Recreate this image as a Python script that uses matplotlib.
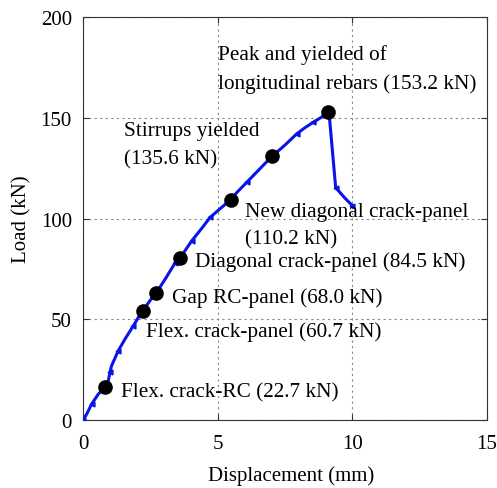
import matplotlib
matplotlib.use("Agg")
import matplotlib.pyplot as plt

# load-displacement curve
disp = [0.0, 0.14, 0.32, 0.57, 0.84, 0.94, 1.0, 1.06, 1.31, 1.56, 1.87, 2.05, 2.24,
        2.5, 2.74, 3.1, 3.42, 3.6, 4.04, 4.4, 4.72, 5.1, 5.43, 5.75, 6.08, 6.5, 7.0, 7.5,
        7.93, 8.25, 8.54, 8.85, 9.09, 9.15, 9.38, 9.7, 10.0]
load = [0.0, 3.0, 7.9, 12.9, 16.2, 19.5, 23.6, 26.9, 34.4, 40.2, 46.8, 50.8, 54.6,
        59.5, 63.5, 71.0, 78.0, 80.4, 89.0, 95.0, 100.6, 105.0, 108.8, 113.5, 118.0, 123.8, 130.7, 136.5,
        142.0, 145.2, 147.7, 150.3, 152.7, 150.0, 115.4, 110.5, 106.4]

# key events (dots)
ev_x = [0.82, 2.23, 2.71, 3.6, 5.5, 7.02, 9.1]
ev_y = [16.4, 54.1, 63.0, 80.4, 109.2, 131.0, 152.9]
ev_labels = ["Flex. crack-RC (22.7 kN)", "Flex. crack-panel (60.7 kN)", "Gap RC-panel (68.0 kN)",
             "Diagonal crack-panel (84.5 kN)", "New diagonal crack-panel\n(110.2 kN)",
             "Stirrups yielded\n(135.6 kN)", "Peak and yielded of\nlongitudinal rebars (153.2 kN)"]
lab_xy = [(1.41, 13.9), (2.34, 44.3), (3.29, 61.0), (4.16, 79.0), (6.02, 96.8), (1.52, 136.7), (5.01, 174.4)]

plt.rcParams["font.family"] = "Liberation Serif"
fig, ax = plt.subplots(figsize=(4.97, 4.89), dpi=100)
ax.plot(disp, load, color="#0a14e6", lw=2.2, marker="<", ms=3.5, markevery=2, zorder=3)
ax.plot(ev_x, ev_y, "o", color="black", ms=9.5, zorder=4)
for (tx, ty), s in zip(lab_xy, ev_labels):
    ax.text(tx, ty, s, fontsize=15.3, ha="left", va="center", linespacing=1.6)

ax.set_xlim(0, 15); ax.set_ylim(0, 200)
ax.set_xticks([0, 5, 10, 15]); ax.set_yticks([0, 50, 100, 150, 200])
ax.grid(True, ls=(0, (2, 3)), color="#888888", lw=0.8)
for sp in ax.spines.values():
    sp.set_linestyle((0, (2, 1))); sp.set_color("#333333"); sp.set_linewidth(0.8)
ax.tick_params(direction="in", length=4, width=0.8, color="#333333", top=True, right=True,
               labelsize=15, pad=8)
ax.tick_params(axis="x", pad=10)
ax.set_xlabel("Displacement (mm)", fontsize=15)
ax.set_ylabel("Load (kN)", fontsize=15)
ax.xaxis.set_label_coords(0.516, -0.113)
ax.yaxis.set_label_coords(-0.127, 0.5)
plt.subplots_adjust(left=0.167, right=0.98, top=0.963, bottom=0.139)
plt.savefig("out.png", dpi=100, facecolor="white")
